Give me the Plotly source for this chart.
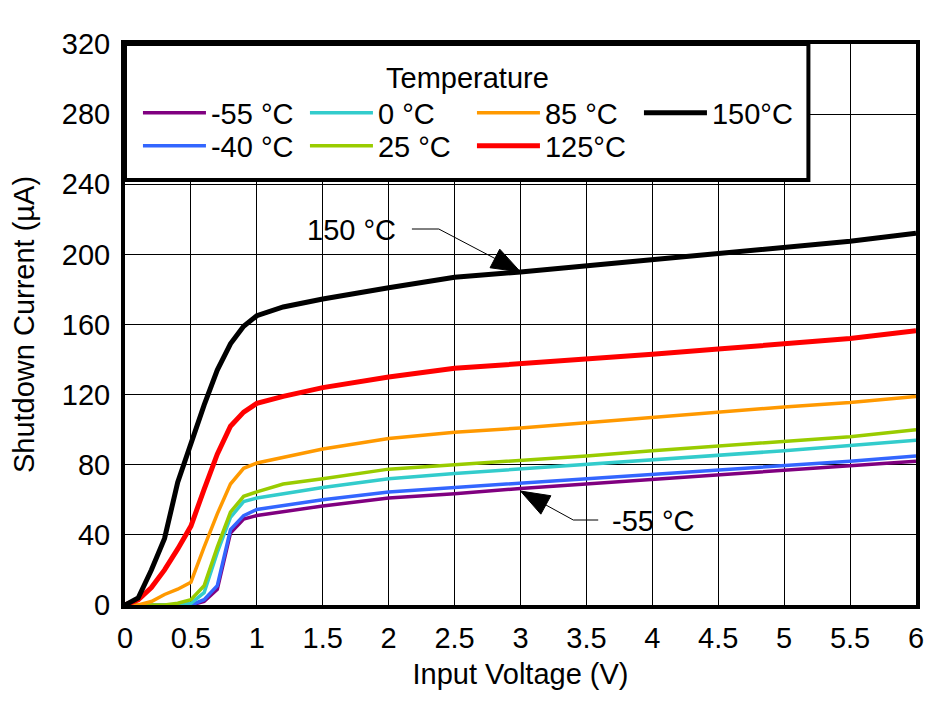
import plotly.graph_objects as go
import numpy as np

# ---- data ----
labels = ["-55 °C", "-40 °C", "0 °C", "25 °C", "85 °C", "125°C", "150°C"]
colors = ["#800080", "#3366FF", "#33CCCC", "#99CC00", "#FF9900", "#FF0000", "#000000"]
widths = [3.5, 3.5, 3.5, 3.5, 3.5, 5, 5]

tail_v = [1.5, 2.0, 2.5, 3.0, 3.5, 4.0, 4.5, 5.0, 5.5, 6.0]

v_m55 = [0, 0.5, 0.6, 0.7, 0.8, 0.9, 1.0] + tail_v
i_m55 = [0, 0, 2, 9, 41, 49, 51, 56.5, 61, 63.5, 66.5, 69, 72, 74.5, 77, 79.5, 82]

v_m40 = [0, 0.5, 0.6, 0.7, 0.8, 0.9, 1.0] + tail_v
i_m40 = [0, 0, 3, 11, 43, 51, 54.5, 60, 64.5, 67, 69.5, 72, 74.5, 77, 79.5, 82, 85]

v_0 = [0, 0.4, 0.5, 0.6, 0.7, 0.8, 0.9, 1.0] + tail_v
i_0 = [0, 0, 1, 7, 30, 50, 59, 61, 67, 72, 75, 77.5, 80, 82.5, 85.5, 88, 91, 94]

v_25 = [0, 0.3, 0.4, 0.5, 0.6, 0.7, 0.8, 0.9, 1.0, 1.2] + tail_v
i_25 = [0, 0, 1, 3, 11, 33, 53, 62, 64.5, 69, 72, 77.5, 80, 82.5, 85, 88, 90.5, 93, 96, 100]

v_85 = [0, 0.1, 0.2, 0.3, 0.4, 0.5, 0.6, 0.7, 0.8, 0.9, 1.0] + tail_v
i_85 = [0, 0, 2, 6, 9, 13, 33, 52, 69, 78, 81, 89, 95, 98.5, 101, 104, 107, 110, 113, 115.5, 119]

v_125 = [0, 0.1, 0.2, 0.3, 0.4, 0.5, 0.6, 0.7, 0.8, 0.9, 1.0, 1.2] + tail_v
i_125 = [0, 3, 10, 20, 32, 45, 66, 86, 102, 110, 115, 119, 124, 130, 135, 137.5, 140, 143, 146, 149, 152, 156.5]

v_150 = [0, 0.1, 0.2, 0.3, 0.4, 0.5, 0.6, 0.7, 0.8, 0.9, 1.0, 1.2] + tail_v
i_150 = [0, 4, 20, 38, 70, 93, 114, 134, 149, 159, 165, 170, 174.5, 181, 187, 190, 193.5, 197, 200.5, 204, 207.5, 212]

series_v = [v_m55, v_m40, v_0, v_25, v_85, v_125, v_150]
series_i = [i_m55, i_m40, i_0, i_25, i_85, i_125, i_150]
legend_of = ["legend", "legend2", "legend", "legend2", "legend", "legend2", "legend"]

x_ticks = [0, 0.5, 1, 1.5, 2, 2.5, 3, 3.5, 4, 4.5, 5, 5.5, 6]
y_ticks = [0, 40, 80, 120, 160, 200, 240, 280, 320]

# ---- layout geometry (page pixel coordinates of the plot area) ----
W, H = 948, 701
OFF = 8  # page body margin
X0, X1, Y0, Y1 = 122, 916, 44, 605   # plot area in page pixels
PW, PH = X1 - X0, Y1 - Y0
XMAX, YMAX = 6, 320
FONT = "Liberation Sans, Arial, sans-serif"
FS = 29


def px(xv):
    return X0 + xv / XMAX * PW


def py(yv):
    return Y1 - yv / YMAX * PH


def dx(pxv):
    return (pxv - X0) / PW * XMAX


def dy(pyv):
    return (Y1 - pyv) / PH * YMAX


fig = go.Figure()
for lab, col, w, v, cur, lg in zip(labels, colors, widths, series_v, series_i, legend_of):
    fig.add_trace(go.Scatter(x=v, y=cur, mode="lines", name=lab,
                             line=dict(color=col, width=w), legend=lg))

# ---- callouts ----
def callout(xv, yv, bend_px, text_end_px, tlen=29, twid=21):
    tx, ty = px(xv), py(yv)
    bx, by = bend_px
    ux, uy = tx - bx, ty - by
    n = np.hypot(ux, uy)
    ux, uy = ux / n, uy / n
    basex, basey = tx - ux * tlen, ty - uy * tlen
    nx, ny = -uy, ux
    p1 = (basex + nx * twid / 2, basey + ny * twid / 2)
    p2 = (basex - nx * twid / 2, basey - ny * twid / 2)
    tri = "M{},{} L{},{} L{},{} Z".format(dx(tx), dy(ty), dx(p1[0]), dy(p1[1]), dx(p2[0]), dy(p2[1]))
    fig.add_shape(type="path", path=tri, xref="x", yref="y",
                  fillcolor="black", line=dict(color="black", width=1), layer="above")
    ex, ey = text_end_px
    lead = "M{},{} L{},{} L{},{}".format(dx(ex), dy(ey), dx(bx), dy(by), dx(basex), dy(basey))
    fig.add_shape(type="path", path=lead, xref="x", yref="y",
                  line=dict(color="black", width=1), layer="above")

x150 = 3.0
y150 = float(np.interp(x150, v_150, i_150))
callout(x150, y150, (437, 229), (410, 229))
fig.add_annotation(x=dx(396), y=dy(230), xref="x", yref="y", text="150 °C", showarrow=False,
                   xanchor="right", yanchor="middle", font=dict(size=FS, color="black", family=FONT))

xm55 = 3.0
ym55 = float(np.interp(xm55, v_m55, i_m55)) - 1.5
callout(xm55, ym55, (572, 520), (597, 520))
fig.add_annotation(x=dx(609), y=dy(521), xref="x", yref="y", text="-55 °C", showarrow=False,
                   xanchor="left", yanchor="middle", font=dict(size=FS, color="black", family=FONT))

# legend box
fig.add_shape(type="rect", xref="paper", yref="paper",
              x0=0, x1=(808 - X0) / PW, y0=(Y1 - 180) / PH, y1=1,
              fillcolor="white", line=dict(color="black", width=4), layer="above")
fig.add_annotation(x=(466 - X0) / PW, y=(Y1 - 78) / PH, xref="paper", yref="paper",
                   text="Temperature", showarrow=False, xanchor="center", yanchor="middle",
                   font=dict(size=FS, color="black", family=FONT))

leg_common = dict(orientation="h", xanchor="left", yanchor="middle",
                  font=dict(size=FS, color="black", family=FONT),
                  bgcolor="rgba(0,0,0,0)", borderwidth=0, itemwidth=63,
                  entrywidth=89, entrywidthmode="pixels", itemclick=False)

fig.update_layout(
    width=W, height=H,
    margin=dict(l=X0 - OFF, r=W + OFF - X1, t=Y0 - OFF, b=H + OFF - Y1, pad=0),
    paper_bgcolor="white", plot_bgcolor="white",
    font=dict(family=FONT, size=FS, color="black"),
    showlegend=True,
    legend=dict(x=(135 - X0) / PW, y=(Y1 - 113) / PH, **leg_common),
    legend2=dict(x=(135 - X0) / PW, y=(Y1 - 146) / PH, **leg_common),
    xaxis=dict(range=[0, XMAX], tickvals=x_ticks, ticktext=[f"{t:g}" for t in x_ticks],
               showgrid=True, gridcolor="black", gridwidth=1, zeroline=False,
               showline=True, linecolor="black", linewidth=4, mirror=True, ticks="",
               ticklabelstandoff=4,
               tickfont=dict(size=FS), title=dict(text="Input Voltage (V)", font=dict(size=FS), standoff=12)),
    yaxis=dict(range=[0, YMAX], tickvals=y_ticks, ticktext=[str(t) for t in y_ticks],
               showgrid=True, gridcolor="black", gridwidth=1, zeroline=False,
               showline=True, linecolor="black", linewidth=4, mirror=True, ticks="",
               ticklabelstandoff=5,
               tickfont=dict(size=FS), title=dict(text="Shutdown Current (µA)", font=dict(size=FS), standoff=22)),
)

fig.write_html("out.html")
